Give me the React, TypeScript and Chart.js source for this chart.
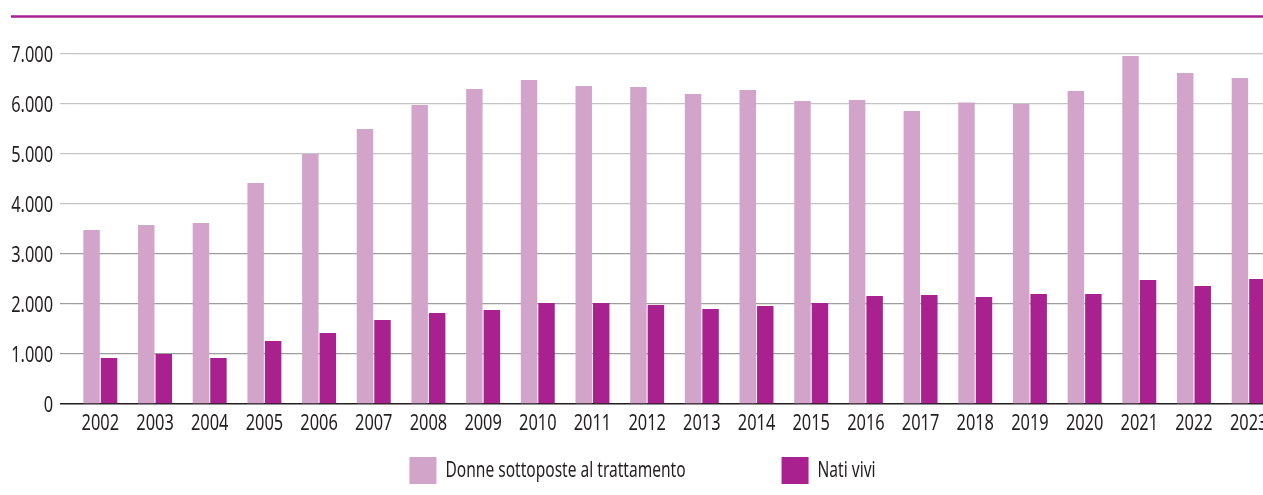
import React, { useEffect, useRef } from 'react';
import { Chart, registerables } from 'chart.js';

Chart.register(...registerables);

const years = ['2002', '2003', '2004', '2005', '2006', '2007', '2008', '2009', '2010', '2011', '2012', '2013', '2014', '2015', '2016', '2017', '2018', '2019', '2020', '2021', '2022', '2023'];
const donneTrattate = [3480, 3580, 3620, 4420, 5000, 5500, 5980, 6300, 6480, 6360, 6340, 6200, 6280, 6060, 6080, 5860, 6030, 6000, 6260, 6960, 6620, 6520];
const natiVivi = [920, 1000, 920, 1260, 1420, 1680, 1820, 1880, 2020, 2020, 1980, 1900, 1960, 2020, 2160, 2180, 2140, 2200, 2200, 2480, 2360, 2500];
const seriesLabels = ['Donne sottoposte al trattamento', 'Nati vivi'];
const seriesColors = ['#d2a4ca', '#a8218f'];
const yMin = 0;
const yMax = 7000;
const yStep = 1000;

const FONT_FAMILY = "'Noto Sans', 'Open Sans', sans-serif";
const FONT_SIZE = 21;
const HSCALE = 0.78; // condensed look for tick labels
const LEGEND_HSCALE = 0.74;
const TEXT_COLOR = '#231f20';

const formatThousands = (v: number) => String(v).replace(/\B(?=(\d{3})+(?!\d))/g, '.');

function drawCondensed(ctx: CanvasRenderingContext2D, text: string, x: number, y: number, align: CanvasTextAlign, hs: number) {
  ctx.save();
  ctx.translate(x, y);
  ctx.scale(hs, 1);
  ctx.textAlign = align;
  ctx.textBaseline = 'alphabetic';
  ctx.fillText(text, 0, 0);
  ctx.restore();
}

const decorPlugin = {
  id: 'decor',
  beforeDraw(chart: any) {
    const ctx = chart.ctx;
    ctx.save();
    ctx.fillStyle = '#a8218f';
    ctx.fillRect(11, 15.25, chart.width, 2.5);
    ctx.restore();
  },
  afterDraw(chart: any) {
    const ctx: CanvasRenderingContext2D = chart.ctx;
    const xs = chart.scales.x;
    const ys = chart.scales.y;
    ctx.save();
    ctx.font = `${FONT_SIZE}px ${FONT_FAMILY}`;
    ctx.fillStyle = TEXT_COLOR;
    const capHalf = FONT_SIZE * 0.714 / 2;

    // x tick labels
    years.forEach((yr, i) => {
      const px = xs.getPixelForValue(i);
      drawCondensed(ctx, yr, px, xs.top + 26, 'center', HSCALE);
    });

    // y tick labels
    ys.ticks.forEach((t: any) => {
      const py = ys.getPixelForValue(t.value);
      drawCondensed(ctx, formatThousands(t.value), ys.right - 20, py + capHalf + 1, 'right', HSCALE);
    });

    // legend
    const box = 27;
    const gap = 9;
    const spacing = 96;
    const widths = seriesLabels.map((l) => ctx.measureText(l).width * LEGEND_HSCALE);
    const total = widths.reduce((a, w) => a + box + gap + w, 0) + spacing * (seriesLabels.length - 1);
    let x = 642.5 - total / 2;
    const top = 457;
    seriesLabels.forEach((label, i) => {
      ctx.fillStyle = seriesColors[i];
      ctx.fillRect(x, top, box, box);
      ctx.fillStyle = TEXT_COLOR;
      drawCondensed(ctx, label, x + box + gap, 477, 'left', LEGEND_HSCALE);
      x += box + gap + widths[i] + spacing;
    });
    ctx.restore();
  },
};

export default function App() {
  const canvasRef = useRef<HTMLCanvasElement | null>(null);

  useEffect(() => {
    const canvas = canvasRef.current;
    if (!canvas) return;
    const chart = new Chart(canvas, {
      type: 'bar',
      data: {
        labels: years,
        datasets: [
          {
            label: seriesLabels[0],
            data: donneTrattate,
            backgroundColor: seriesColors[0],
            categoryPercentage: 0.64,
            barPercentage: 0.94,
          },
          {
            label: seriesLabels[1],
            data: natiVivi,
            backgroundColor: seriesColors[1],
            categoryPercentage: 0.64,
            barPercentage: 0.94,
          },
        ],
      },
      options: {
        responsive: false,
        animation: false,
        devicePixelRatio: 1,
        layout: { padding: { left: 0, right: 14, top: 54, bottom: 51 } },
        plugins: {
          legend: { display: false },
          tooltip: { enabled: false },
        },
        scales: {
          x: {
            grid: { display: false },
            border: { display: false },
            ticks: { display: false, autoSkip: false },
            afterFit: (scale: any) => {
              scale.height = 40;
            },
          },
          y: {
            min: yMin,
            max: yMax,
            border: { display: false },
            grid: {
              drawTicks: true,
              tickLength: 13,
              color: (ctx: any) => {
                const v = ctx.tick ? ctx.tick.value : 1;
                if (v === 0) return '#231f20';
                if (v >= 4000) return '#c4c4c4';
                return '#9d9d9d';
              },
              lineWidth: (ctx: any) => (ctx.tick && ctx.tick.value === 0 ? 1.5 : 1.2),
            },
            ticks: { display: false, stepSize: yStep },
            afterFit: (scale: any) => {
              scale.width = 73;
            },
          },
        },
      },
      plugins: [decorPlugin],
    });
    return () => chart.destroy();
  }, []);

  return (
    <div style={{ position: 'fixed', left: 0, top: 0, width: 1263, height: 495, overflow: 'hidden', background: '#fff' }}>
      <canvas ref={canvasRef} width={1290} height={495} style={{ display: 'block', width: 1290, height: 495 }} />
    </div>
  );
}
